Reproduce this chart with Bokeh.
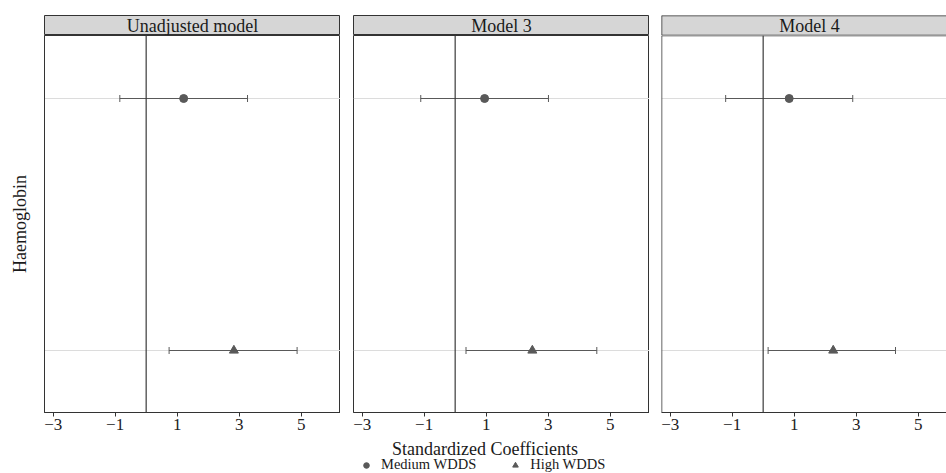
import numpy as np
from bokeh.plotting import figure
from bokeh.models import (Range1d, FixedTicker, LinearAxis, Span, Whisker, TeeHead,
                          ColumnDataSource, Legend, LegendItem, Label, Grid)
from bokeh.layouts import row, column
from bokeh.embed import file_html
from bokeh.resources import INLINE

# ---------------- data ----------------
models = ["Unadjusted model", "Model 3", "Model 4"]
groups = ["Medium WDDS", "High WDDS"]
outcome = "Haemoglobin"
medium_est = [1.21, 0.95, 0.84]
medium_lo = [-0.85, -1.11, -1.21]
medium_hi = [3.27, 3.01, 2.89]
high_est = [2.83, 2.49, 2.26]
high_lo = [0.74, 0.35, 0.16]
high_hi = [4.87, 4.57, 4.27]
x_ticks = [-3, -1, 1, 3, 5]
x_tick_labels = ["\u22123", "\u22121", "1", "3", "5"]
x_title = "Standardized Coefficients"
reference_value = 0

# ---------------- style / layout ----------------
FONT = "Liberation Serif"
DARK = "#333333"
MARK = "#595959"
W, H = 946, 473
X_START, X_END = -3.28, 6.27
Y_START, Y_END = -0.246, 1.25
FRAME_W, FRAME_H = 296, 377
STRIP_H, TOP, BOTTOM = 20, 15, 26
lefts = [44, 13, 12]
frame_ws = [296, 296, 285]
markers = ["circle", "triangle"]
sizes = [8, 9]

series = [(medium_est, medium_lo, medium_hi), (high_est, high_lo, high_hi)]
ypos = {g: len(groups) - 1 - i for i, g in enumerate(groups)}

columns = []
for i, model in enumerate(models):
    fw = frame_ws[i]
    x_end = X_START + (X_END - X_START) * fw / FRAME_W
    full = fw == FRAME_W

    # strip
    s = figure(width=lefts[i] + fw, height=TOP + STRIP_H,
               x_range=Range1d(0, fw / FRAME_W), y_range=Range1d(0, 1),
               x_axis_type=None, y_axis_type=None, output_backend="svg",
               toolbar_location=None, min_border_left=lefts[i], min_border_right=0,
               min_border_top=TOP, min_border_bottom=0,
               background_fill_color="#d6d6d6",
               outline_line_color=DARK if full else None)
    s.grid.visible = False
    if not full:
        s.add_layout(Span(location=0, dimension="height", line_color=DARK, line_width=1.5))
        s.add_layout(Span(location=0, dimension="width", line_color=DARK, line_width=1.5))
        s.add_layout(Span(location=1, dimension="width", line_color=DARK, line_width=1.5))
    s.add_layout(Label(x=0.5, y=0.5, text=model, text_align="center",
                       text_baseline="middle", text_font=FONT,
                       text_font_size="18px", text_color="#1a1a1a"))

    # panel
    p = figure(width=lefts[i] + fw, height=FRAME_H + BOTTOM,
               x_range=Range1d(X_START, x_end), y_range=Range1d(Y_START, Y_END),
               x_axis_type=None, y_axis_type=None, output_backend="svg",
               toolbar_location=None, min_border_left=lefts[i], min_border_right=0,
               min_border_top=0, min_border_bottom=BOTTOM,
               outline_line_color=DARK if full else None, outline_line_width=1)

    xaxis = LinearAxis(ticker=FixedTicker(ticks=x_ticks),
                       major_label_overrides=dict(zip(x_ticks, x_tick_labels)),
                       axis_line_color=DARK, major_tick_line_color=DARK,
                       major_tick_out=4, major_tick_in=0, minor_tick_line_color=None,
                       major_label_standoff=2, major_label_text_font=FONT,
                       major_label_text_font_size="17px", major_label_text_color="#222222")
    p.add_layout(xaxis, "below")
    p.add_layout(Grid(dimension=1, ticker=FixedTicker(ticks=list(ypos.values())),
                      grid_line_color="#dcdcdc", grid_line_width=1))

    if i == 0:
        yaxis = LinearAxis(ticker=FixedTicker(ticks=[]), axis_label=outcome,
                           axis_line_color=DARK, major_tick_out=0, major_tick_in=0,
                           minor_tick_line_color=None, major_label_standoff=0,
                           axis_label_standoff=15, axis_label_text_font=FONT,
                           axis_label_text_font_size="18px",
                           axis_label_text_font_style="normal",
                           axis_label_text_color="#1a1a1a")
        p.add_layout(yaxis, "left")
    if not full:
        p.add_layout(Span(location=X_START, dimension="height", line_color=DARK, line_width=1.5))
        p.add_layout(Span(location=Y_END, dimension="width", line_color=DARK, line_width=1.5))

    p.add_layout(Span(location=reference_value, dimension="height",
                      line_color="#3a3a3a", line_width=1.2))

    for gi, g in enumerate(groups):
        est, lo, hi = series[gi]
        src = ColumnDataSource(dict(x=[est[i]], lo=[lo[i]], hi=[hi[i]], y=[ypos[g]]))
        p.add_layout(Whisker(source=src, base="y", lower="lo", upper="hi",
                             dimension="width", line_color=MARK, line_width=1.2,
                             upper_head=TeeHead(size=7, line_color=MARK, line_width=1),
                             lower_head=TeeHead(size=7, line_color=MARK, line_width=1)))
        p.scatter("x", "y", source=src, marker=markers[gi], size=sizes[gi],
                  fill_color=MARK, line_color=MARK)

    columns.append(column(s, p, spacing=0))

panels_h = TOP + STRIP_H + FRAME_H + BOTTOM
bh = H - panels_h

# bottom area: shared x-axis title and legend
b = figure(width=W, height=bh, x_range=Range1d(0, W), y_range=Range1d(0, bh),
           x_axis_type=None, y_axis_type=None, output_backend="svg",
           toolbar_location=None, min_border=0, outline_line_color=None)
b.grid.visible = False
b.add_layout(Label(x=484.5, y=bh - 10.5, text=x_title, text_align="center",
                   text_baseline="middle", text_font=FONT, text_font_size="18px",
                   text_color="#1a1a1a"))
# legend keys only (no visible points: NaN positions)
key_renderers = [b.scatter(x=np.array([np.nan]), y=np.array([np.nan]),
                           marker=markers[gi], size=sizes[gi],
                           fill_color=MARK, line_color=MARK)
                 for gi in range(len(groups))]
legend = Legend(items=[LegendItem(label=g, renderers=[key_renderers[gi]])
                       for gi, g in enumerate(groups)],
                location=(359, 0), orientation="horizontal",
                glyph_width=14, glyph_height=14, label_height=14,
                label_standoff=8, spacing=32, padding=0, margin=0,
                border_line_color=None, background_fill_alpha=0,
                label_text_font=FONT, label_text_font_size="14.5px",
                label_text_color="#1a1a1a")
b.add_layout(legend)

layout = column(row(*columns, spacing=0), b, spacing=0)
open("out.html", "w").write(file_html(layout, INLINE))
